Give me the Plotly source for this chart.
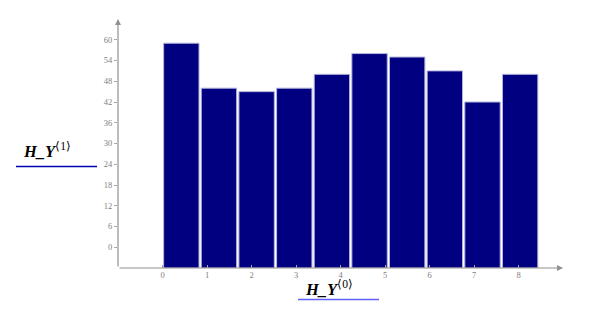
import plotly.graph_objects as go

# Data
bin_x = [0.423, 1.269, 2.115, 2.961, 3.807, 4.653, 5.499, 6.345, 7.191, 8.037]
counts = [59, 46, 45, 46, 50, 56, 55, 51, 42, 50]
x_ticks = [0, 1, 2, 3, 4, 5, 6, 7, 8]
y_ticks = [0, 6, 12, 18, 24, 30, 36, 42, 48, 54, 60]

W, H = 589, 312
L, R, T, B = 118, 26, 19, 44
XMIN, XMAX = -1, 9
YMIN, YMAX = -6, 66
AX = "#a8a8a8"
TICKFONT = dict(family="Liberation Serif, DejaVu Serif, serif", size=8.5, color="#808080")

fig = go.Figure()
fig.add_trace(go.Bar(
    x=bin_x, y=[c - YMIN for c in counts], base=YMIN, width=0.795,
    marker=dict(color="#000080", line=dict(color="#b4b4dc", width=1)),
    hoverinfo="skip",
))

fig.update_layout(
    width=W, height=H, margin=dict(l=L, r=R, t=T, b=B),
    paper_bgcolor="white", plot_bgcolor="white", showlegend=False,
    xaxis=dict(range=[XMIN, XMAX], tickvals=x_ticks, showgrid=False, zeroline=False,
               showline=False, ticks="inside", ticklen=3, tickcolor=AX,
               tickfont=TICKFONT, fixedrange=True),
    yaxis=dict(range=[YMIN, YMAX], tickvals=y_ticks, showgrid=False, zeroline=False,
               showline=False, ticks="outside", ticklen=3, tickcolor=AX,
               tickfont=TICKFONT, fixedrange=True),
)

# axes with arrows
fig.add_annotation(x=XMAX, y=YMIN, ax=XMIN, ay=YMIN, xref="x", yref="y", axref="x", ayref="y",
                   showarrow=True, arrowhead=2, arrowsize=1, arrowwidth=1.2, arrowcolor="#909090", text="")
fig.add_annotation(x=XMIN, y=YMAX, ax=XMIN, ay=YMIN, xref="x", yref="y", axref="x", ayref="y",
                   showarrow=True, arrowhead=2, arrowsize=1, arrowwidth=1.2, arrowcolor="#909090", text="")

pw, ph = W - L - R, H - T - B
def px(x): return (x - L) / pw
def py(y): return (H - B - y) / ph

LABFONT = dict(family="Liberation Serif, Times New Roman, serif", size=16.5, color="black")
fig.add_annotation(x=px(21), y=py(151), xref="paper", yref="paper", showarrow=False,
                   text="<b><i>H_Y</i></b><sup>⟨1⟩</sup>", font=LABFONT, xanchor="left", yanchor="middle")
fig.add_shape(type="line", xref="paper", yref="paper", x0=px(16), x1=px(97), y0=py(166.5), y1=py(166.5),
              line=dict(color="#0000b0", width=1.5))
fig.add_annotation(x=px(303), y=py(288), xref="paper", yref="paper", showarrow=False,
                   text="<b><i>H_Y</i></b><sup>⟨0⟩</sup>", font=LABFONT, xanchor="left", yanchor="middle")
fig.add_shape(type="line", xref="paper", yref="paper", x0=px(298), x1=px(379), y0=py(299.5), y1=py(299.5),
              line=dict(color="#6060ff", width=1.3))

fig.write_html("out.html")
